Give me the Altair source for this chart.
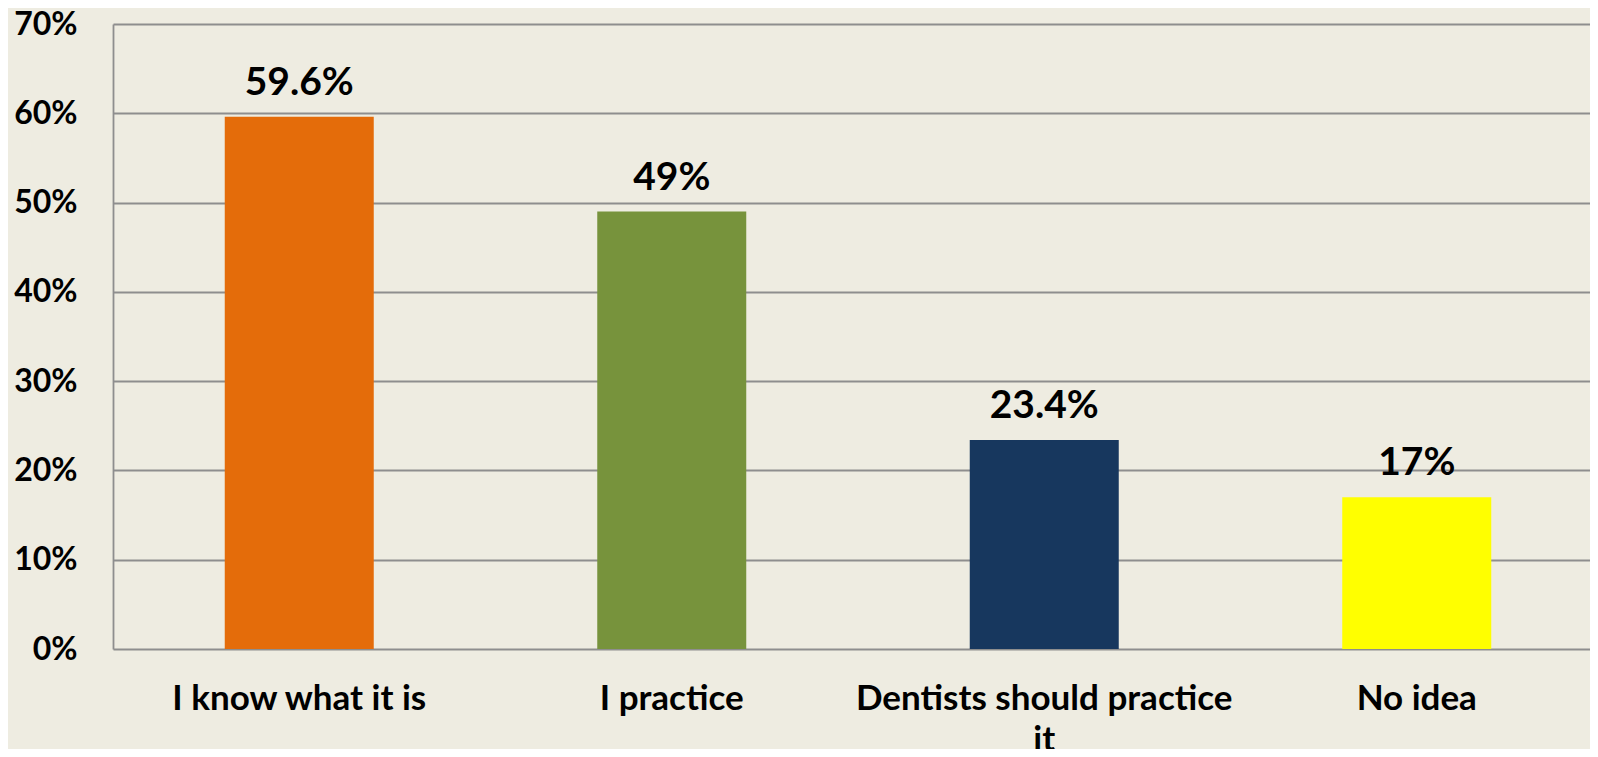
import altair as alt
import pandas as pd

categories = ["I know what it is", "I practice", "Dentists should practice it", "No idea"]
values = [0.596, 0.49, 0.234, 0.17]
value_labels = ["59.6%", "49%", "23.4%", "17%"]
colors = ["#E46C0A", "#77933C", "#17375E", "#FFFF00"]
y_ticks = [0, 0.1, 0.2, 0.3, 0.4, 0.5, 0.6, 0.7]

df = pd.DataFrame({"category": categories, "value": values, "label": value_labels, "color": colors})

FONT = "Lato"
GRID = "#8E8E8E"
BG = "#EEECE1"

x = alt.X(
    "category:N",
    sort=categories,
    scale=alt.Scale(paddingInner=0.6, paddingOuter=0.3),
    axis=alt.Axis(
        title=None,
        labelAngle=0,
        labelFont=FONT,
        labelFontWeight="bold",
        labelFontSize=35,
        labelColor="#000000",
        labelPadding=32,
        labelLineHeight=41,
        labelBaseline="top",
        labelLimit=800,
        ticks=False,
        domain=False,
        labelExpr="datum.label == 'Dentists should practice it' ? ['Dentists should practice', 'it'] : datum.label",
    ),
)

y = alt.Y(
    "value:Q",
    scale=alt.Scale(domain=[0, 0.7], nice=False),
    axis=alt.Axis(
        title=None,
        values=y_ticks,
        format=".0%",
        labelFont=FONT,
        labelFontWeight="bold",
        labelFontSize=32,
        labelColor="#000000",
        labelPadding=36,
        ticks=False,
        domain=True,
        domainColor=GRID,
        domainWidth=1.8,
        grid=True,
        gridColor=GRID,
        gridWidth=1.8,
    ),
)

bars = alt.Chart(df).mark_bar().encode(
    x=x,
    y=y,
    color=alt.Color("color:N", scale=None),
)

texts = alt.Chart(df).mark_text(
    font=FONT, fontWeight="bold", fontSize=39, dy=-22, baseline="alphabetic", color="#000000"
).encode(
    x=alt.X("category:N", sort=categories),
    y="value:Q",
    text="label:N",
)

chart = (
    alt.layer(bars, texts)
    .properties(
        width=1490,
        height=625,
        background=BG,
        autosize=alt.AutoSizeParams(type="none"),
        padding={"left": 105, "top": 16, "right": -13, "bottom": 100},
    )
    .configure_view(stroke=None)
)

chart.save("out.html", embed_options={"renderer": "svg", "actions": False})
